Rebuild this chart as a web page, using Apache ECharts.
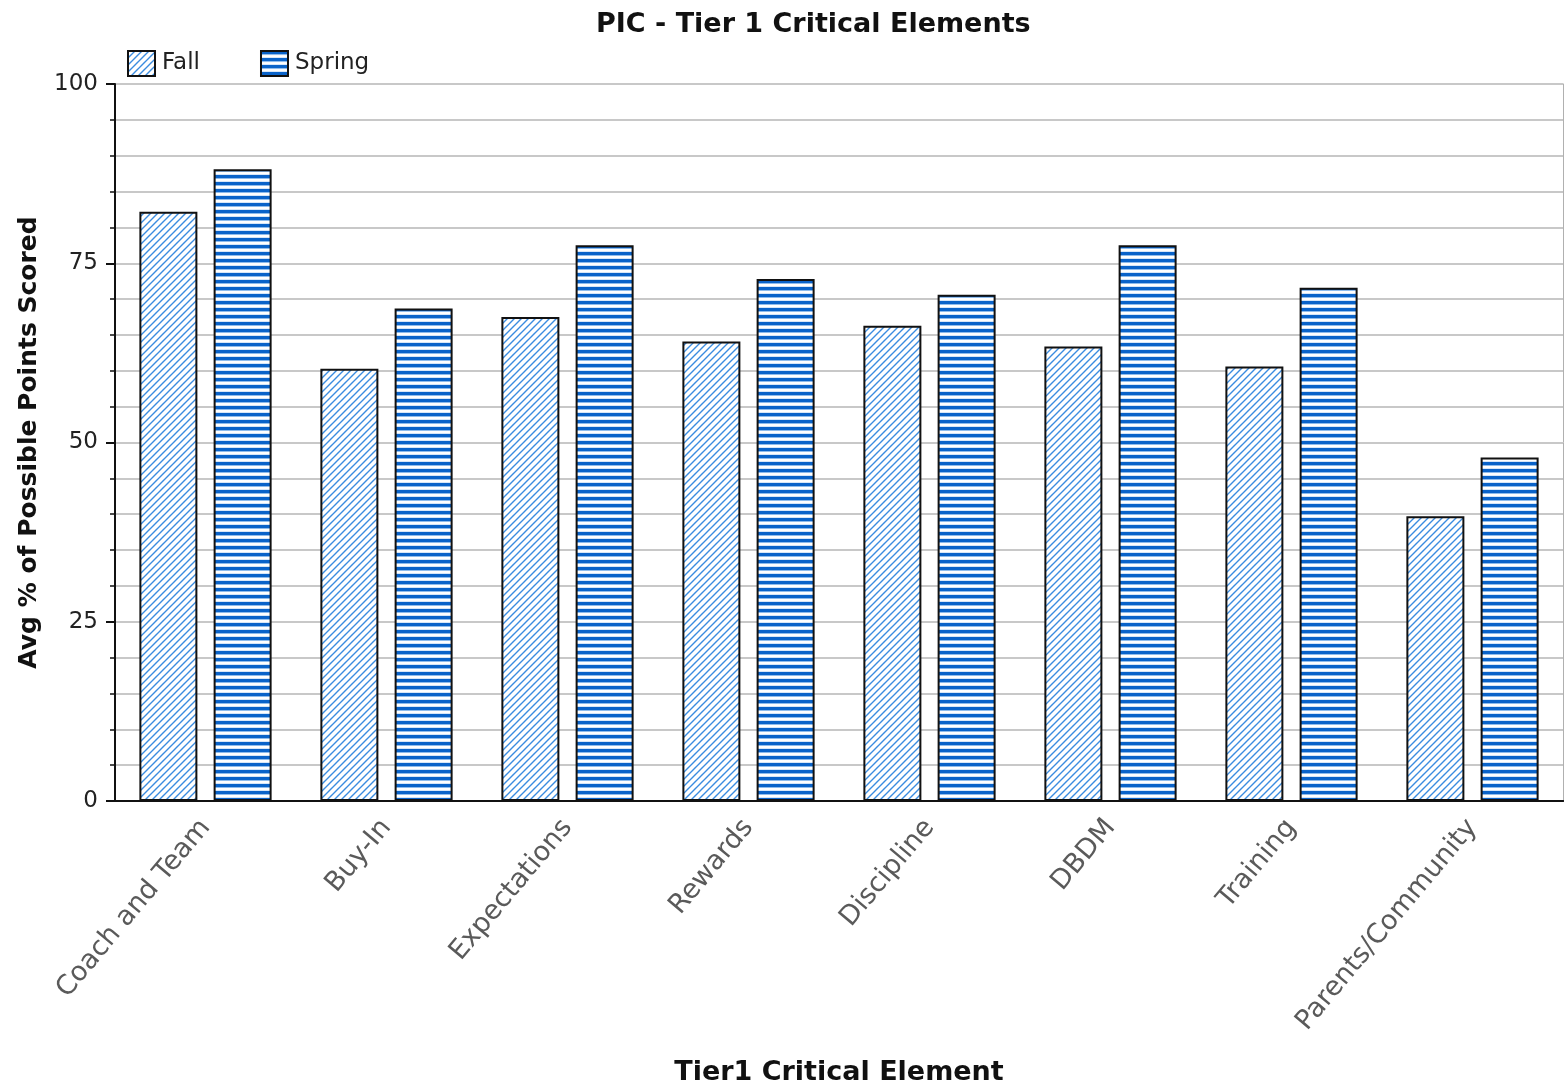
<!DOCTYPE html>
<html>
<head>
<meta charset="utf-8">
<script src="https://cdn.jsdelivr.net/npm/echarts@6/dist/echarts.min.js"></script>
<style>
  html, body { margin: 0; padding: 0; background: #fff; }
  #chart { width: 1564px; height: 1091px; }
</style>
</head>
<body>
<div id="chart"></div>
<script>
// Tier 1 critical elements and the average percentage of possible points scored
const categories = ['Coach and Team', 'Buy-In', 'Expectations', 'Rewards', 'Discipline', 'DBDM', 'Training', 'Parents/Community'];
const fallValues = [82.2, 60.3, 67.5, 64.1, 66.3, 63.4, 60.6, 39.7];
const springValues = [88.1, 68.7, 77.5, 72.8, 70.6, 77.5, 71.6, 47.9];
const seriesNames = ['Fall', 'Spring'];
const yTicks = { min: 0, max: 100, interval: 25 };

// Diagonal hatch fill for the Fall bars
function diagonalPattern() {
  const c = document.createElement('canvas');
  c.width = 7; c.height = 7;
  const ctx = c.getContext('2d');
  ctx.fillStyle = '#ffffff';
  ctx.fillRect(0, 0, 7, 7);
  ctx.strokeStyle = '#3a8ce0';
  ctx.lineWidth = 1.4;
  ctx.beginPath();
  ctx.moveTo(-1, 8); ctx.lineTo(8, -1);
  ctx.moveTo(-1, 1); ctx.lineTo(1, -1);
  ctx.moveTo(6, 8); ctx.lineTo(8, 6);
  ctx.stroke();
  return c;
}

// Horizontal stripe fill for the Spring bars
function stripePattern() {
  const c = document.createElement('canvas');
  c.width = 4; c.height = 7;
  const ctx = c.getContext('2d');
  const rows = ['#0a63c9', '#0a63c9', '#0a63c9', '#8fbcec', '#ffffff', '#ffffff', '#d6e6f8'];
  rows.forEach((col, i) => { ctx.fillStyle = col; ctx.fillRect(0, i, 4, 1); });
  return c;
}

const fallFill = { image: diagonalPattern(), repeat: 'repeat' };
const springFill = { image: stripePattern(), repeat: 'repeat' };

const chart = echarts.init(document.getElementById('chart'));

const font = 'DejaVu Sans';

chart.setOption({
  animation: false,
  backgroundColor: '#ffffff',
  title: {
    text: 'PIC - Tier 1 Critical Elements',
    left: 591,
    top: 6,
    textStyle: { fontFamily: font, fontSize: 27, fontWeight: 'bold', color: '#111' }
  },
  legend: {
    left: 122,
    top: 45,
    icon: 'rect',
    itemWidth: 27,
    itemHeight: 25,
    itemGap: 60,
    textStyle: { fontFamily: font, fontSize: 23, color: '#222', padding: [0, 0, 0, 2] },
    data: seriesNames
  },
  grid: { left: 115, right: 1, top: 84, bottom: 286, containLabel: false },
  xAxis: [
    {
      type: 'category',
      data: categories,
      boundaryGap: true,
      name: 'Tier1 Critical Element',
      nameLocation: 'middle',
      nameGap: 258,
      nameTextStyle: { fontFamily: font, fontSize: 27, fontWeight: 'bold', color: '#111', verticalAlign: 'top' },
      axisLine: { lineStyle: { color: '#111', width: 2 } },
      axisTick: { alignWithLabel: true, length: 9, lineStyle: { color: '#111', width: 2 } },
      axisLabel: {
        rotate: 50,
        margin: 22,
        fontFamily: font,
        fontSize: 27,
        color: '#5a5a5a',
        interval: 0
      },
      splitLine: { show: false }
    },
    {
      type: 'category',
      data: categories,
      position: 'top',
      axisLine: { lineStyle: { color: '#111', width: 2 } },
      axisTick: { show: false },
      axisLabel: { show: false },
      splitLine: { show: false }
    }
  ],
  yAxis: [
    {
      type: 'value',
      min: yTicks.min,
      max: yTicks.max,
      interval: yTicks.interval,
      name: 'Avg % of Possible Points Scored',
      nameLocation: 'middle',
      nameGap: 73,
      nameTextStyle: { fontFamily: font, fontSize: 25, fontWeight: 'bold', color: '#111' },
      axisLine: { show: true, lineStyle: { color: '#111', width: 2 } },
      axisTick: { show: true, length: 9, lineStyle: { color: '#111', width: 2 } },
      minorTick: { show: true, splitNumber: 5, length: 5, lineStyle: { color: '#111', width: 1.5 } },
      axisLabel: { margin: 17, fontFamily: font, fontSize: 23, color: '#222' },
      splitLine: { show: true, lineStyle: { color: '#c8c8c8', width: 2 } },
      minorSplitLine: { show: true, lineStyle: { color: '#c8c8c8', width: 2 } }
    },
    {
      type: 'value',
      min: yTicks.min,
      max: yTicks.max,
      interval: yTicks.interval,
      position: 'right',
      axisLine: { show: true, lineStyle: { color: '#b0b0b0', width: 1 } },
      axisTick: { show: false },
      axisLabel: { show: false },
      splitLine: { show: false }
    }
  ],
  series: [
    {
      name: seriesNames[0],
      type: 'bar',
      data: fallValues,
      barWidth: 58,
      barGap: '28%',
      itemStyle: { color: fallFill, borderColor: '#111', borderWidth: 2 }
    },
    {
      name: seriesNames[1],
      type: 'bar',
      data: springValues,
      barWidth: 58,
      barGap: '28%',
      itemStyle: { color: springFill, borderColor: '#111', borderWidth: 2 }
    }
  ]
});
</script>
</body>
</html>
